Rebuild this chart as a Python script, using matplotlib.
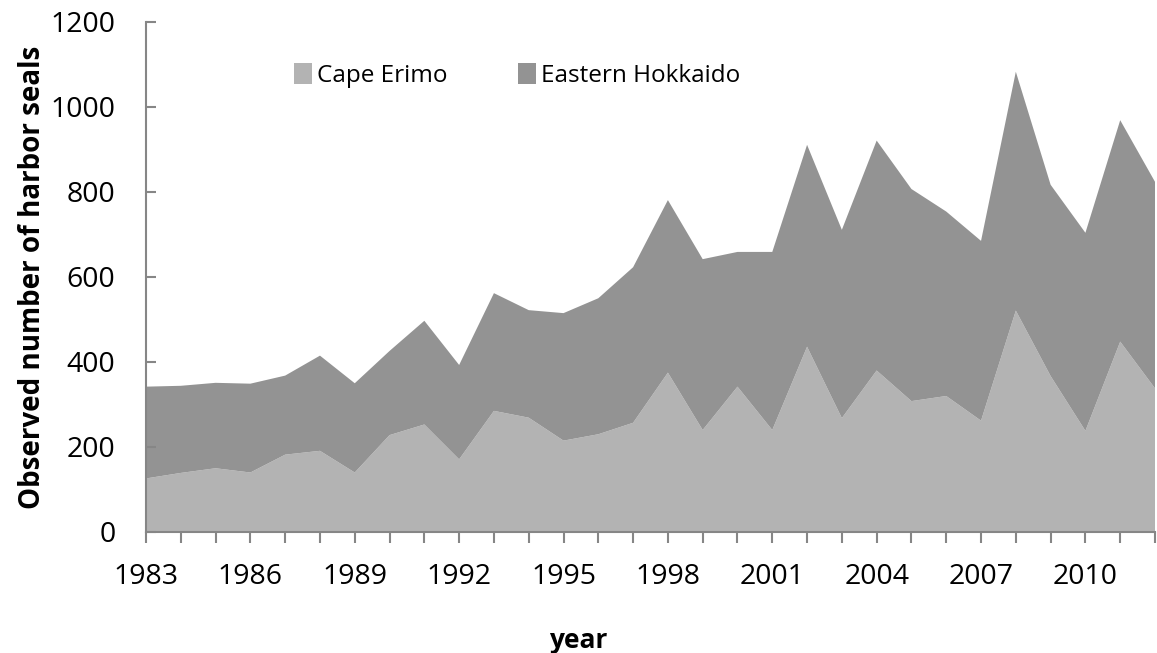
import matplotlib
matplotlib.use("Agg")
import matplotlib.pyplot as plt
import numpy as np

years = list(range(1983, 2013))
cape_erimo = [126, 139, 150, 140, 182, 191, 140, 228, 253, 171,
              285, 269, 215, 230, 257, 375, 240, 342, 240, 436,
              268, 380, 308, 320, 262, 521, 367, 238, 448, 338]
eastern_hokkaido = [216, 205, 201, 209, 186, 224, 210, 198, 244, 222,
                    277, 253, 300, 320, 366, 406, 402, 317, 419, 475,
                    443, 541, 499, 434, 423, 562, 450, 466, 521, 486]
series_labels = ["Cape Erimo", "Eastern Hokkaido"]
y_ticks = [0, 200, 400, 600, 800, 1000, 1200]

plt.rcParams['font.family'] = ['Open Sans', 'DejaVu Sans']

fig = plt.figure(figsize=(11.57, 6.53), dpi=100)
ax = fig.add_axes([146/1157, 1-532/653, (1155-146)/1157, (532-22)/653])

ax.stackplot(years, cape_erimo, eastern_hokkaido,
             colors=["#b3b3b3", "#939393"], labels=series_labels, linewidth=0)

ax.set_xlim(years[0], years[-1])
ax.set_ylim(0, 1200)
ax.set_yticks(y_ticks)
ax.set_xticks(years)
ax.set_xticklabels([str(y) if (y - 1983) % 3 == 0 else "" for y in years])

for s in ["top", "right"]:
    ax.spines[s].set_visible(False)
for s in ["left", "bottom"]:
    ax.spines[s].set_color("#868686")
    ax.spines[s].set_linewidth(1.5)

ax.tick_params(axis='y', direction='in', length=7, width=1.5, color="#868686",
               labelsize=20.5, pad=22)
ax.tick_params(axis='x', direction='out', length=8, width=1.5, color="#868686",
               labelsize=20.5, pad=14)

ax.set_ylabel("Observed number of harbor seals", fontsize=20, fontweight='bold')
ax.yaxis.set_label_coords(-0.098, 0.5)
ax.set_xlabel("year", fontsize=19, fontweight='bold')
ax.xaxis.set_label_coords(0.428, -0.186)

leg = ax.legend(ncol=2, frameon=False, loc='upper left',
                bbox_to_anchor=(0.137, 0.938), fontsize=17.5,
                handlelength=0.75, handleheight=0.9, handletextpad=0.2,
                columnspacing=2.9, borderaxespad=0)

fig.savefig("out.png", dpi=100)
